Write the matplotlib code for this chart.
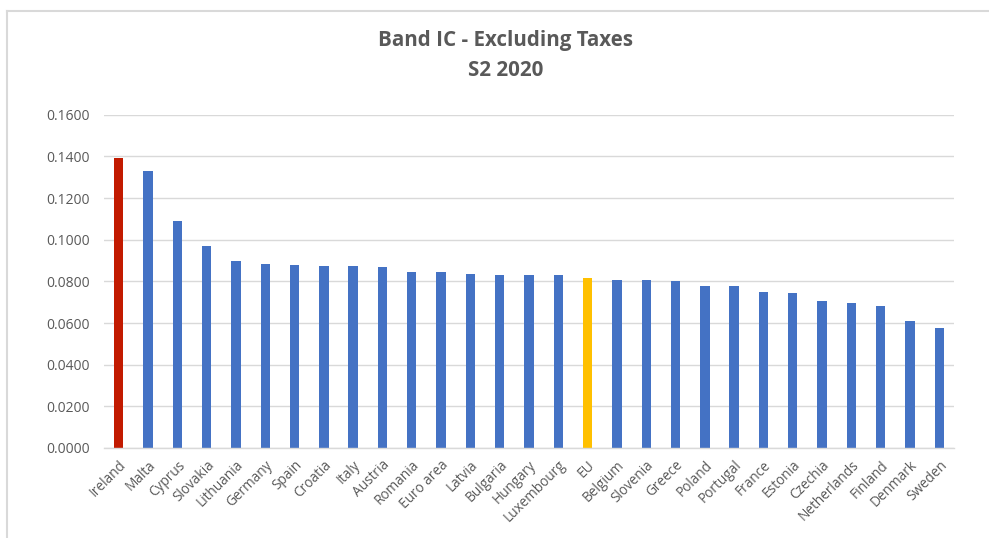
import matplotlib.pyplot as plt
from matplotlib.lines import Line2D

countries = ["Ireland", "Malta", "Cyprus", "Slovakia", "Lithuania", "Germany", "Spain",
             "Croatia", "Italy", "Austria", "Romania", "Euro area", "Latvia", "Bulgaria",
             "Hungary", "Luxembourg", "EU", "Belgium", "Slovenia", "Greece", "Poland",
             "Portugal", "France", "Estonia", "Czechia", "Netherlands", "Finland",
             "Denmark", "Sweden"]
prices = [0.1390, 0.1328, 0.1092, 0.0969, 0.0898, 0.0882, 0.0879, 0.0876, 0.0876,
          0.0867, 0.0843, 0.0843, 0.0835, 0.0830, 0.0830, 0.0830, 0.0817, 0.0806,
          0.0806, 0.0801, 0.0780, 0.0777, 0.0748, 0.0743, 0.0708, 0.0695, 0.0683,
          0.0609, 0.0576]
yticks = [0.0, 0.02, 0.04, 0.06, 0.08, 0.10, 0.12, 0.14, 0.16]

colors = []
for c in countries:
    if c == "Ireland":
        colors.append("#C21A00")
    elif c == "EU":
        colors.append("#FFC000")
    else:
        colors.append("#4472C4")

plt.rcParams["font.family"] = ["Open Sans", "DejaVu Sans"]
txt = "#595959"
grid = "#D9D9D9"

fig = plt.figure(figsize=(9.89, 5.38), dpi=100)
ax = fig.add_axes([0.1052, 0.1673, 0.8594, 0.6195])

x = range(len(countries))
ax.bar(x, prices, width=0.32, color=colors, zorder=3)

ax.set_xlim(-0.5, len(countries) - 0.5)
ax.set_ylim(0, 0.16)
ax.set_yticks(yticks)
ax.set_yticklabels([f"{v:.4f}" for v in yticks], fontsize=10, color=txt)
ax.set_xticks(list(x))
ax.set_xticklabels(countries, rotation=45, ha="right", rotation_mode="anchor",
                   fontsize=9.8, color=txt)
ax.tick_params(axis="both", length=0)
ax.tick_params(axis="y", pad=10)
ax.tick_params(axis="x", pad=7)

ax.grid(axis="y", color=grid, linewidth=1, zorder=0)
for side in ["top", "right", "left"]:
    ax.spines[side].set_visible(False)
ax.spines["bottom"].set_color(grid)
ax.spines["bottom"].set_linewidth(1)
ax.spines["bottom"].set_zorder(4)

fig.text(0.511, 0.925, "Band IC - Excluding Taxes", ha="center", va="center",
         fontsize=14.8, fontweight="bold", color=txt)
fig.text(0.511, 0.869, "S2 2020", ha="center", va="center",
         fontsize=14.8, fontweight="bold", color=txt)

# chart area border (top and left edges visible)
fig.add_artist(Line2D([7 / 989, 1], [1 - 11 / 538, 1 - 11 / 538],
                      transform=fig.transFigure, color=grid, linewidth=1.5))
fig.add_artist(Line2D([7 / 989, 7 / 989], [0, 1 - 11 / 538],
                      transform=fig.transFigure, color=grid, linewidth=1.5))

fig.savefig("out.png", dpi=100, facecolor="white")
